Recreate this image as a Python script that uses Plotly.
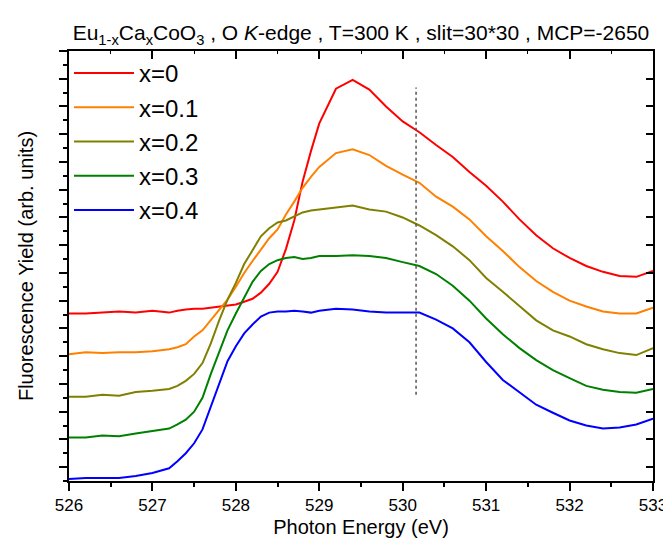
import plotly.graph_objects as go

# Photon energy grid (eV)
energy = [526.0, 526.2, 526.4, 526.6, 526.8, 527.0, 527.2, 527.3, 527.4, 527.5,
          527.6, 527.7, 527.8, 527.9, 528.0, 528.1, 528.2, 528.3, 528.4, 528.5,
          528.6, 528.7, 528.8, 528.9, 529.0, 529.2, 529.4, 529.6, 529.8, 530.0,
          530.2, 530.4, 530.6, 530.8, 531.0, 531.2, 531.4, 531.6, 531.8, 532.0,
          532.2, 532.4, 532.6, 532.8, 533.0]

# Fluorescence yield (arb. units, vertically offset spectra)
y_x0 = [55.4, 55.4, 55.7, 56.1, 55.7, 56.4, 55.7, 56.4, 56.8, 57.1,
        57.1, 57.5, 57.9, 58.2, 58.6, 59.6, 60.7, 62.9, 66.1, 70.4,
        78.6, 88.9, 102.9, 113.9, 123.9, 136.4, 139.6, 136.1, 130.0, 124.6,
        120.7, 116.1, 111.8, 106.4, 101.4, 95.7, 89.3, 83.6, 78.9, 75.4,
        72.5, 70.4, 68.9, 68.6, 70.7]
y_x01 = [40.7, 41.4, 41.1, 41.4, 41.4, 41.8, 42.5, 43.2, 44.3, 47.1,
         49.3, 52.9, 56.4, 60.4, 65.0, 70.0, 74.3, 78.2, 82.5, 85.7,
         91.1, 95.7, 100.7, 104.6, 108.2, 113.2, 114.6, 112.5, 108.6, 105.4,
         102.5, 97.5, 93.9, 89.3, 83.2, 77.9, 72.1, 67.1, 63.2, 60.0,
         57.9, 56.1, 55.4, 55.4, 57.5]
y_x02 = [25.4, 25.4, 26.1, 25.7, 27.1, 27.5, 28.2, 29.3, 31.1, 33.6,
         37.5, 44.6, 52.9, 60.4, 66.4, 73.2, 78.2, 83.2, 86.1, 88.2,
         88.9, 90.4, 91.8, 92.5, 92.9, 93.6, 94.3, 92.9, 92.1, 90.0,
         87.1, 83.6, 79.6, 74.6, 68.2, 63.2, 57.9, 52.9, 49.3, 47.1,
         44.3, 42.5, 41.1, 40.4, 42.9]
y_x03 = [10.7, 10.7, 11.4, 11.1, 12.1, 12.9, 13.9, 15.4, 17.1, 20.0,
         25.0, 33.6, 41.4, 49.3, 55.4, 61.4, 66.8, 70.7, 73.2, 74.6,
         75.4, 75.7, 75.0, 75.4, 76.1, 76.1, 76.4, 76.1, 75.4, 73.9,
         72.5, 69.6, 65.4, 60.0, 53.6, 47.9, 42.9, 38.6, 35.0, 32.1,
         29.3, 27.9, 27.1, 26.8, 28.2]
y_x04 = [-4.3, -3.9, -3.9, -3.9, -3.2, -2.1, -0.4, 2.1, 5.0, 8.6,
         13.6, 21.8, 30.0, 38.2, 43.6, 48.2, 51.4, 54.3, 55.7, 56.1,
         56.1, 56.4, 56.1, 55.7, 56.4, 57.1, 56.8, 56.1, 55.7, 55.7,
         55.7, 53.2, 50.0, 45.0, 37.9, 31.4, 27.1, 22.5, 19.6, 16.8,
         15.0, 13.9, 14.3, 15.4, 17.5]

series_names = ["x=0", "x=0.1", "x=0.2", "x=0.3", "x=0.4"]
series_values = [y_x0, y_x01, y_x02, y_x03, y_x04]
series_colors = ["#FF0000", "#FF8000", "#808000", "#008000", "#0000FF"]

# Vertical reference marker
ref_energy = [530.16, 530.16]
ref_yield = [26.1, 136.8]

x_range = [526, 533]
y_range = [-5, 150]

FONT = "Liberation Sans, Arial, sans-serif"

fig = go.Figure()
for name, vals, col in zip(series_names, series_values, series_colors):
    fig.add_trace(go.Scatter(x=energy, y=vals, mode="lines", name=name,
                             line=dict(color=col, width=2)))

fig.add_trace(go.Scatter(x=ref_energy, y=ref_yield, mode="lines", showlegend=False,
                         line=dict(color="#555555", width=1.5, dash="dot"),
                         hoverinfo="skip"))

fig.update_layout(
    width=671, height=539,
    margin=dict(l=61, r=18, t=43, b=62),
    paper_bgcolor="white", plot_bgcolor="white",
    font=dict(family=FONT, color="black", size=17),
    title=dict(text="Eu<sub>1-x</sub>Ca<sub>x</sub>CoO<sub>3</sub> , O <i>K</i>-edge , T=300 K , slit=30*30 , MCP=-2650",
               x=0.5, xref="paper", xanchor="center",
               y=1 - 25 / 539, yref="container", yanchor="middle",
               font=dict(family=FONT, size=21, color="black")),
    legend=dict(x=0.0, y=1.0, xanchor="left", yanchor="top",
                bgcolor="rgba(0,0,0,0)", borderwidth=0,
                font=dict(family=FONT, size=24, color="black"),
                itemwidth=60),
    xaxis=dict(range=x_range, dtick=1, tick0=526, showgrid=False, zeroline=False,
               showline=True, linecolor="black", linewidth=2,
               ticks="outside", ticklen=8, tickwidth=1.5, tickcolor="black",
               minor=dict(dtick=0.5, ticks="outside", ticklen=4, tickwidth=1.5, tickcolor="black", showgrid=False),
               tickfont=dict(family=FONT, size=17),
               title=dict(text="Photon Energy (eV)", font=dict(family=FONT, size=20), standoff=6)),
    yaxis=dict(range=y_range, dtick=10, tick0=0, showgrid=False, zeroline=False,
               showline=True, linecolor="black", linewidth=2,
               ticks="outside", ticklen=8, tickwidth=1.5, tickcolor="black",
               minor=dict(dtick=5, ticks="outside", ticklen=4, tickwidth=1.5, tickcolor="black", showgrid=False),
               showticklabels=False,
               title=dict(text="Fluorescence Yield (arb. units)", font=dict(family=FONT, size=20), standoff=20)),
    xaxis2=dict(range=x_range, overlaying="x", side="top", anchor="y", dtick=1, tick0=526,
                showgrid=False, zeroline=False, showline=True, linecolor="black", linewidth=2,
                ticks="inside", ticklen=8, tickwidth=1.5, tickcolor="black",
                minor=dict(dtick=0.5, ticks="inside", ticklen=3, tickwidth=1, tickcolor="black", showgrid=False),
                showticklabels=False),
    yaxis2=dict(range=y_range, overlaying="y", side="right", anchor="x", dtick=10, tick0=0,
                showgrid=False, zeroline=False, showline=True, linecolor="black", linewidth=2,
                ticks="inside", ticklen=7, tickwidth=1.5, tickcolor="black",
                showticklabels=False),
)

# invisible helper trace so the mirrored frame axes are drawn
fig.add_trace(go.Scatter(x=[x_range[0]], y=[y_range[0]], xaxis="x2", yaxis="y2",
                         mode="markers", marker=dict(opacity=0), showlegend=False,
                         hoverinfo="skip"))

fig.write_html("out.html")
